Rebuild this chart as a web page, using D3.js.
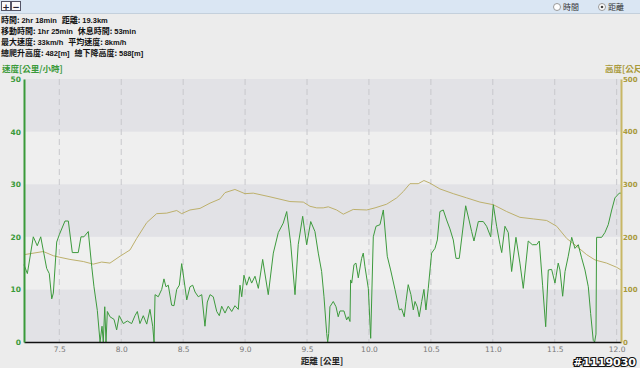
<!DOCTYPE html>
<html>
<head>
<meta charset="utf-8">
<script src="https://cdnjs.cloudflare.com/ajax/libs/d3/7.8.5/d3.min.js"></script>
<style>
  body { margin: 0; background: #ececec; }
  svg { display: block; font-family: "Noto Sans CJK TC", "Noto Sans", sans-serif; }
</style>
</head>
<body>
<div id="chart"></div>
<script>
// speed track [distance km, speed km/h]
var speedDist = [7.215, 7.242, 7.290, 7.322, 7.350, 7.398, 7.419, 7.439, 7.452, 7.479, 7.500, 7.546, 7.573, 7.605, 7.653, 7.675, 7.699, 7.734, 7.762, 7.780,
  7.807, 7.829, 7.845, 7.855, 7.867, 7.877, 7.888, 7.909, 7.942, 7.963, 7.984, 8.017, 8.049, 8.084, 8.111, 8.130, 8.151, 8.178, 8.206, 8.232,
  8.254, 8.265, 8.273, 8.299, 8.327, 8.345, 8.361, 8.380, 8.407, 8.426, 8.448, 8.469, 8.488, 8.507, 8.529, 8.555, 8.577, 8.596, 8.622, 8.650,
  8.676, 8.695, 8.717, 8.743, 8.771, 8.792, 8.811, 8.838, 8.864, 8.892, 8.918, 8.945, 8.959, 8.973, 8.991, 9.013, 9.034, 9.053, 9.080, 9.107,
  9.142, 9.187, 9.228, 9.268, 9.308, 9.336, 9.368, 9.403, 9.429, 9.465, 9.497, 9.530, 9.564, 9.591, 9.618, 9.637, 9.659, 9.667, 9.675, 9.685,
  9.712, 9.734, 9.752, 9.766, 9.798, 9.820, 9.833, 9.847, 9.852, 9.861, 9.879, 9.895, 9.914, 9.941, 9.954, 9.968, 9.995, 10.014, 10.035, 10.057,
  10.089, 10.116, 10.148, 10.175, 10.210, 10.245, 10.264, 10.285, 10.299, 10.317, 10.339, 10.358, 10.372, 10.390, 10.406, 10.426, 10.444, 10.460, 10.479, 10.506,
  10.533, 10.552, 10.573, 10.600, 10.627, 10.654, 10.681, 10.703, 10.729, 10.757, 10.781, 10.808, 10.829, 10.848, 10.883, 10.923, 10.950, 10.983, 11.004, 11.031,
  11.058, 11.072, 11.098, 11.125, 11.152, 11.187, 11.219, 11.246, 11.286, 11.319, 11.354, 11.375, 11.402, 11.427, 11.448, 11.475, 11.502, 11.528, 11.542, 11.564,
  11.583, 11.609, 11.637, 11.663, 11.690, 11.717, 11.744, 11.771, 11.790, 11.811, 11.822, 11.833, 11.838, 11.879, 11.905, 11.932, 11.960, 11.986, 12.021, 12.035];
var speedVal = [14.7, 13, 20, 18.3, 20, 14, 13, 8.2, 9.3, 19, 20.4, 23, 23, 17, 17, 20, 20, 21, 14.3, 10.5,
  6, 0, 3, 0, 6.7, 0, 5.8, 4.8, 4.3, 2.3, 5, 3.5, 4, 3.5, 5, 5.8, 3.5, 5, 3.4, 6.2,
  3, 0, 9, 8.6, 10, 12, 10.5, 10.8, 7, 6.9, 10, 10.8, 14.9, 11.8, 8, 10.5, 10.8, 9.5, 8.6, 9,
  3, 7.6, 9, 8.6, 5.8, 5, 6.8, 5.5, 6.8, 5.8, 6.9, 6.2, 10.8, 8.6, 12.7, 10.8, 12.4, 11.2, 12.5, 10.2,
  15.7, 9, 16.9, 20.8, 22.6, 24.8, 18.8, 9, 18.5, 23.9, 18.5, 22.9, 21, 16.9, 13.4, 8.6, 1.6, 0, 1.6, 6.7,
  7.7, 6.7, 4.8, 5.9, 5.9, 4.2, 4.8, 3.9, 11.8, 11.2, 14.7, 15, 12.2, 15.9, 16.9, 14.3, 10.2, 0.7, 20, 22,
  22.3, 25.1, 16.3, 13.7, 10, 6.1, 6.3, 4.8, 7.7, 10.9, 9, 6.1, 7.7, 6.7, 4.8, 7.7, 10, 6.1, 10.2, 16.9,
  17.8, 19.4, 24.8, 25.1, 23.2, 21.5, 19.4, 15.9, 15.9, 21.3, 25.9, 23.2, 21, 19.2, 22.9, 22.9, 22, 20, 26.1, 22,
  18.5, 17, 22, 20.8, 13.4, 19.9, 15, 10.2, 19.2, 18.5, 18.5, 19.2, 10.8, 2.9, 13.7, 13.8, 11.2, 15, 13.7, 8.7,
  13.4, 16.3, 19.9, 17.8, 18.5, 16, 13.7, 10.5, 5.4, 0.3, 0, 1.5, 19.9, 19.9, 20.8, 22.3, 25.1, 27.4, 28.3, 28.3];

// elevation track [distance km, metres]
var elevDist = [7.215, 7.371, 7.452, 7.506, 7.586, 7.694, 7.774, 7.842, 7.909, 7.990, 8.071, 8.125, 8.206, 8.286, 8.367, 8.448, 8.488, 8.555, 8.636, 8.717,
  8.797, 8.838, 8.918, 8.999, 9.066, 9.201, 9.362, 9.470, 9.524, 9.578, 9.631, 9.672, 9.739, 9.793, 9.873, 9.982, 10.049, 10.143, 10.224, 10.277,
  10.331, 10.398, 10.444, 10.493, 10.573, 10.681, 10.789, 10.896, 11.004, 11.112, 11.219, 11.327, 11.435, 11.516, 11.596, 11.677, 11.758, 11.825, 11.919, 12.000, 12.035];
var elevVal = [166, 172, 164, 161, 157, 153, 148, 152, 150, 163, 175, 197, 227, 244, 245, 250, 244, 251, 254, 264,
  272, 284, 290, 282, 283, 276, 267, 266, 258, 255, 255, 257, 251, 243, 252, 251, 255, 262, 274, 286,
  301, 301, 307, 302, 291, 282, 274, 266, 261, 248, 237, 234, 231, 220, 197, 182, 166, 156, 150, 142, 137];

var xTicks = [7.5, 8.0, 8.5, 9.0, 9.5, 10.0, 10.5, 11.0, 11.5, 12.0];
var speedTicks = [0, 10, 20, 30, 40, 50];
var elevTicks = [0, 100, 200, 300, 400, 500];

var statLines = [
  [["時間", "2hr 18min"], ["距離", "19.3km"]],
  [["移動時間", "1hr 25min"], ["休息時間", "53min"]],
  [["最大速度", "33km/h"], ["平均速度", "8km/h"]],
  [["總爬升高度", "482[m]"], ["總下降高度", "588[m]"]]
];

var W = 640, H = 368;
var plotL = 24, plotR = 621, plotT = 79, plotB = 342;

var svg = d3.select("#chart").append("svg")
  .attr("width", W).attr("height", H);

svg.append("rect").attr("width", W).attr("height", H).attr("fill", "#ececec");

// header bar
svg.append("rect").attr("width", W).attr("height", 13).attr("fill", "#dae6f3");
svg.append("line").attr("x1", 0).attr("x2", W).attr("y1", 13.5).attr("y2", 13.5).attr("stroke", "#c4d0dc");
["+", "\u2212"].forEach(function (s, i) {
  svg.append("rect").attr("x", 1.5 + i * 10).attr("y", 1.5).attr("width", 9).attr("height", 9)
    .attr("fill", "#fafafa").attr("stroke", "#556").attr("stroke-width", 1);
  svg.append("text").attr("x", 6 + i * 10).attr("y", 9.5).attr("text-anchor", "middle")
    .attr("font-family", "DejaVu Sans").attr("font-size", 9).attr("font-weight", "bold").attr("fill", "#223").text(s);
});
// radio buttons
[["時間", 557, false], ["距離", 602, true]].forEach(function (r) {
  svg.append("circle").attr("cx", r[1]).attr("cy", 7).attr("r", 3.5)
    .attr("fill", "#fff").attr("stroke", "#999");
  if (r[2]) svg.append("circle").attr("cx", r[1]).attr("cy", 7).attr("r", 1.3).attr("fill", "#444");
  svg.append("text").attr("x", r[1] + 6).attr("y", 10).attr("font-size", 8).attr("fill", "#333").text(r[0]);
});

// summary text
statLines.forEach(function (line, i) {
  var t = svg.append("text").attr("x", 1).attr("y", 22.5 + i * 11.3)
    .attr("font-size", 8).attr("fill", "#111");
  line.forEach(function (kv, j) {
    t.append("tspan").attr("font-weight", "bold").attr("dx", j ? 5 : 0).text(kv[0] + ": ");
    t.append("tspan").attr("font-family", "Liberation Sans").attr("font-size", 7.5).attr("font-weight", "bold").text(kv[1]);
  });
});

var x = d3.scaleLinear().domain([7.215, 12.035]).range([plotL, plotR]);
var yS = d3.scaleLinear().domain([0, 50]).range([plotB, plotT]);
var yE = d3.scaleLinear().domain([0, 500]).range([plotB, plotT]);

// bands
var bands = d3.range(0, 50, 10);
svg.selectAll("rect.band").data(bands).enter().append("rect")
  .attr("class", "band")
  .attr("x", plotL).attr("width", plotR - plotL)
  .attr("y", function (d) { return yS(d + 10); })
  .attr("height", function (d) { return yS(d) - yS(d + 10); })
  .attr("fill", function (d) { return (d / 10) % 2 === 0 ? "#e2e2e6" : "#efefef"; });

// dashed verticals
svg.selectAll("line.grid").data(xTicks).enter().append("line")
  .attr("x1", function (d) { return x(d); }).attr("x2", function (d) { return x(d); })
  .attr("y1", plotT).attr("y2", plotB)
  .attr("stroke", "#c8c8cc").attr("stroke-width", 1).attr("stroke-dasharray", "6,4");

// elevation line
svg.append("path")
  .datum(elevDist.map(function (d, i) { return [d, elevVal[i]]; }))
  .attr("fill", "none").attr("stroke", "#bdb06c").attr("stroke-width", 1)
  .attr("d", d3.line().x(function (d) { return x(d[0]); }).y(function (d) { return yE(d[1]); }));

// speed line
svg.append("path")
  .datum(speedDist.map(function (d, i) { return [d, speedVal[i]]; }))
  .attr("fill", "none").attr("stroke", "#3d9a3d").attr("stroke-width", 1)
  .attr("d", d3.line().x(function (d) { return x(d[0]); }).y(function (d) { return yS(d[1]); }));

// bottom axis (drawn first so the right axis line clips the last label, as in the original)
var gB = svg.append("g").attr("transform", "translate(0," + plotB + ")")
  .call(d3.axisBottom(x).tickValues(xTicks).tickSize(0).tickPadding(5).tickFormat(d3.format(".1f")));
gB.select(".domain").attr("stroke", "#111").attr("stroke-width", 1.5);
gB.selectAll("text").attr("fill", "#777").attr("font-size", 7.5).attr("font-family", "DejaVu Sans");

// left axis
var gL = svg.append("g").attr("transform", "translate(" + plotL + ",0)")
  .call(d3.axisLeft(yS).tickValues(speedTicks).tickSize(0).tickPadding(3));
gL.select(".domain").attr("stroke", "#3a9a3a").attr("stroke-width", 2);
gL.selectAll("text").attr("fill", "#3a9a3a").attr("font-size", 7.5).attr("font-weight", "bold")
  .attr("font-family", "DejaVu Sans");

// right axis
var gR = svg.append("g").attr("transform", "translate(" + plotR + ",0)")
  .call(d3.axisRight(yE).tickValues(elevTicks).tickSize(0).tickPadding(2));
gR.select(".domain").attr("stroke", "#c8b765").attr("stroke-width", 2);
gR.selectAll("text").attr("fill", "#a99a3c").attr("font-size", 7).attr("font-weight", "bold")
  .attr("font-family", "DejaVu Sans");

// axis titles
svg.append("text").attr("x", 2).attr("y", 72).attr("font-size", 8.5).attr("font-weight", "bold")
  .attr("fill", "#3a9a3a").text("速度[公里/小時]");
svg.append("text").attr("x", 605).attr("y", 72).attr("font-size", 8.5).attr("font-weight", "bold")
  .attr("fill", "#a99a3c").text("高度[公尺]");
svg.append("text").attr("x", 322).attr("y", 364).attr("text-anchor", "middle").attr("font-size", 8.5)
  .attr("font-weight", "bold").attr("fill", "#222").text("距離 [公里]");

// watermark
svg.append("text").attr("x", 636).attr("y", 365.5).attr("text-anchor", "end")
  .attr("font-size", 11).attr("font-weight", "bold").attr("font-family", "DejaVu Sans")
  .attr("fill", "#fff").attr("stroke", "#111").attr("stroke-width", 2.2).attr("paint-order", "stroke")
  .text("#1119030");
</script>
</body>
</html>
